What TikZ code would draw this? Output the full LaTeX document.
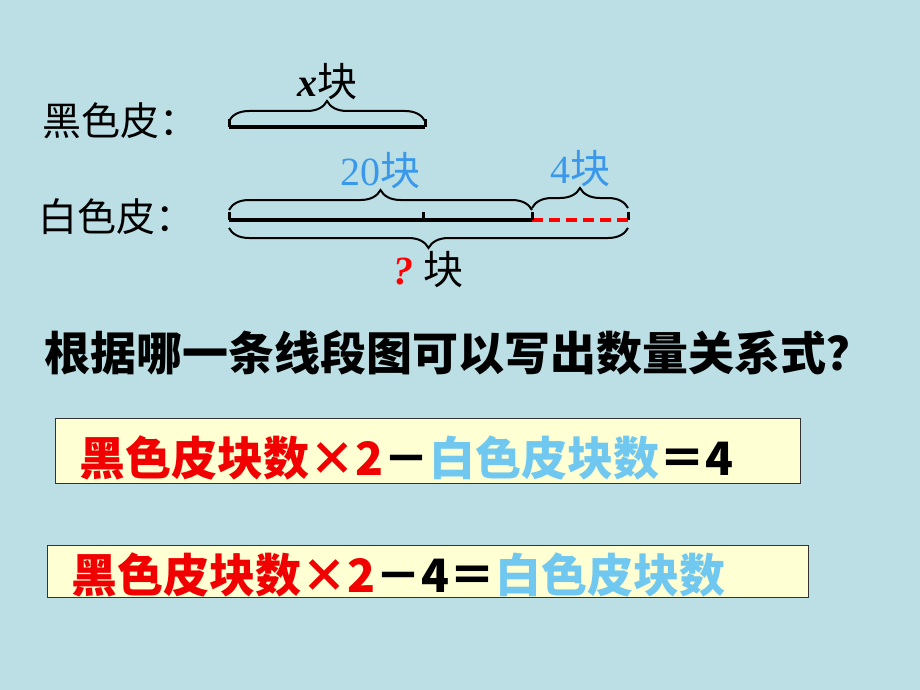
\documentclass[tikz,border=0pt]{standalone}
\usepackage{fontspec}
\setmainfont{Liberation Serif}
\newfontfamily\cjk{Noto Sans CJK SC}
\usetikzlibrary{decorations.pathreplacing}

\definecolor{slidebg}{RGB}{187,223,228}
\definecolor{boxfill}{RGB}{255,255,212}
\definecolor{numblue}{RGB}{58,152,236}
\definecolor{eqblue}{RGB}{112,200,240}
\definecolor{eqred}{RGB}{240,0,0}

\begin{document}
\begin{tikzpicture}[x=1pt,y=-1pt,
  bar/.style={line width=4pt},
  tick/.style={line width=3pt},
  brc/.style={decorate,decoration={brace,amplitude=20pt},line width=2pt},
  lbl/.style={font=\cjk\fontsize{39}{45}\selectfont,inner sep=0pt},
  num/.style={inner sep=0pt,font=\fontsize{40}{46}\selectfont},
  eqbox/.style={draw=black!80,fill=boxfill,line width=1pt,inner sep=0pt},
  eqtext/.style={font=\cjk\bfseries\fontsize{46}{52}\selectfont,inner sep=0pt,anchor=west}]
  % slide background
  \fill[slidebg] (0,0) rectangle (920,690);
  \useasboundingbox (0,0) rectangle (920,690);

  % black pieces
  \node[lbl,anchor=west] (blk) at (42,121) {黑色皮：};
  \coordinate (b0) at (229,127);
  \coordinate (b1) at (425,127);
  \draw[bar] (b0) -- (b1);
  \draw[tick] (b0) -- +(0,-8) (b1) -- +(0,-8);
  \draw[brc] ([yshift=6pt]b0) -- ([yshift=6pt]b1)
    node[midway,above=20pt,num] (xlbl) {\textbf{\textit{x}}{\cjk 块}};

  % white pieces
  \node[lbl,anchor=west] (wht) at (38,217) {白色皮：};
  \coordinate (w0) at (229,220);
  \coordinate (wm) at (423,220);
  \coordinate (w1) at (532,220);
  \coordinate (w2) at (628,220);
  \draw[bar] (w0) -- (w1);
  \draw[bar,red,dash pattern=on 11pt off 6pt] (w1) -- (w2);
  \draw[tick] (w0) -- +(0,-8) (wm) -- +(0,-8) (w1) -- +(0,-8) (w2) -- +(0,-8);
  \draw[brc] ([yshift=10pt]w0) -- ([yshift=10pt]w1)
    node[midway,above=20pt,num,text=numblue] (twenty) {20{\cjk 块}};
  \draw[brc] ([yshift=12pt]w1) -- ([yshift=12pt]w2)
    node[midway,above=20pt,num,text=numblue] (four) {4{\cjk 块}};
  \draw[brc] ([yshift=-8pt]w2) -- ([yshift=-8pt]w0)
    node[midway,below=22pt,num] (total) {\textcolor{red}{\textbf{\textit{?}}}\ {\cjk 块}};

  % question
  \node[font=\cjk\bfseries\fontsize{46}{52}\selectfont,anchor=west,inner sep=0pt] (ask) at (44,353)
    {根据哪一条线段图可以写出数量关系式？};

  % relation boxes
  \node[eqbox,minimum width=745pt,minimum height=65pt] (box1) at (427.5,450.5) {};
  \node[eqtext] (eq1) at ([xshift=25pt,yshift=-7pt]box1.west)
    {\textcolor{eqred}{黑色皮块数×2}－\textcolor{eqblue}{白色皮块数}＝4};
  \node[eqbox,minimum width=761pt,minimum height=52pt] (box2) at (427.5,571) {};
  \node[eqtext] (eq2) at ([xshift=25pt,yshift=-4pt]box2.west)
    {\textcolor{eqred}{黑色皮块数×2}－4＝\textcolor{eqblue}{白色皮块数}};
\end{tikzpicture}
\end{document}
